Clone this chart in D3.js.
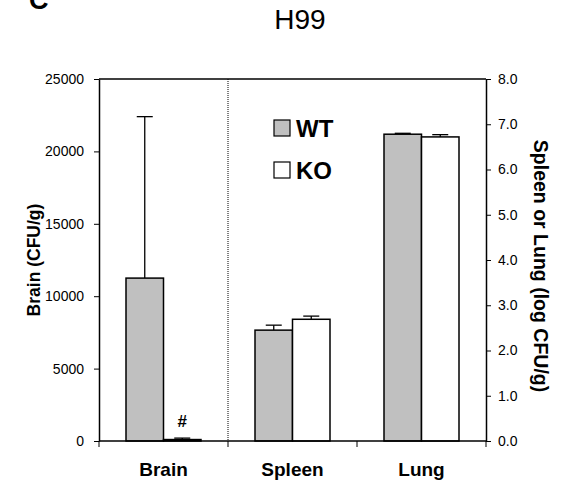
<!DOCTYPE html>
<html>
<head>
<meta charset="utf-8">
<script src="https://cdn.jsdelivr.net/npm/d3@7"></script>
<style>
  body { margin: 0; background: #fff; }
  text { font-family: "Liberation Sans", Arial, sans-serif; fill: #000; }
</style>
</head>
<body>
<div id="chart"></div>
<script>
// data
var categories = ["Brain", "Spleen", "Lung"];
var groups = ["WT", "KO"];
var wtValues = [11250, 2.45, 6.78];
var wtUpper = [22400, 2.56, 6.80];
var koValues = [100, 2.69, 6.72];
var koUpper = [200, 2.76, 6.77];
var leftTicks = [0, 5000, 10000, 15000, 20000, 25000];
var rightTicks = [0, 1, 2, 3, 4, 5, 6, 7, 8];

function draw_chart(id) {
    "use strict";
    var width = 564, height = 487;
    var left = 99, right = 486, top = 79, bottom = 441;

    var svg = d3.select(id).append("svg")
        .attr("width", width)
        .attr("height", height);

    var x = d3.scaleBand().domain(categories).range([left, right]).padding(0);
    var xg = d3.scaleBand().domain(groups).range([0, x.bandwidth()])
        .paddingInner(0).paddingOuter(0.72);
    var yLeft = d3.scaleLinear().domain([0, 25000]).range([bottom, top]);
    var yRight = d3.scaleLinear().domain([0, 8]).range([bottom, top]);

    var data = [];
    categories.forEach(function (c, i) {
        var sc = i === 0 ? yLeft : yRight;
        data.push({cat: c, grp: "WT", v: wtValues[i], up: wtUpper[i], y: sc, fill: "#c0c0c0"});
        data.push({cat: c, grp: "KO", v: koValues[i], up: koUpper[i], y: sc, fill: "#ffffff"});
    });

    // error bars (upward only)
    var err = svg.append("g").attr("stroke", "#000").attr("stroke-width", 1.3);
    data.forEach(function (d) {
        var cx = x(d.cat) + xg(d.grp) + xg.bandwidth() / 2;
        err.append("line").attr("x1", cx).attr("x2", cx)
            .attr("y1", d.y(d.v)).attr("y2", d.y(d.up));
        err.append("line").attr("x1", cx - 8).attr("x2", cx + 8)
            .attr("y1", d.y(d.up)).attr("y2", d.y(d.up));
    });

    // bars
    svg.append("g").selectAll("rect")
        .data(data)
        .enter()
        .append("rect")
        .attr("x", function (d) { return x(d.cat) + xg(d.grp); })
        .attr("width", xg.bandwidth())
        .attr("y", function (d) { return d.y(d.v); })
        .attr("height", function (d) { return bottom - d.y(d.v); })
        .attr("fill", function (d) { return d.fill; })
        .attr("stroke", "#000")
        .attr("stroke-width", 1.5);

    // "#" over brain KO
    svg.append("text")
        .attr("x", x("Brain") + xg("KO") + xg.bandwidth() / 2)
        .attr("y", 427)
        .attr("text-anchor", "middle")
        .attr("font-weight", "bold")
        .attr("font-size", "17px")
        .text("#");

    // dotted divider between brain and the rest
    svg.append("line")
        .attr("x1", x("Spleen")).attr("x2", x("Spleen"))
        .attr("y1", top).attr("y2", bottom)
        .attr("stroke", "#000").attr("stroke-width", 1)
        .attr("stroke-dasharray", "1,1");

    // frame top
    svg.append("line")
        .attr("x1", left).attr("x2", right)
        .attr("y1", top).attr("y2", top)
        .attr("stroke", "#000").attr("stroke-width", 1.5);

    // left axis
    var gl = svg.append("g")
        .attr("transform", "translate(" + left + ",0)")
        .call(d3.axisLeft(yLeft).tickValues(leftTicks).tickSize(5)
            .tickSizeOuter(0).tickPadding(10).tickFormat(d3.format("d")));
    gl.select(".domain").attr("stroke-width", 1.5);
    gl.selectAll("text").attr("font-size", "14px")
        .style("font-family", "'Liberation Sans', Arial, sans-serif");

    // right axis
    var gr = svg.append("g")
        .attr("transform", "translate(" + right + ",0)")
        .call(d3.axisRight(yRight).tickValues(rightTicks).tickSize(5)
            .tickSizeOuter(0).tickPadding(7).tickFormat(d3.format(".1f")));
    gr.select(".domain").attr("stroke-width", 1.5);
    gr.selectAll("text").attr("font-size", "14px")
        .style("font-family", "'Liberation Sans', Arial, sans-serif");

    // bottom axis line with ticks at category boundaries
    svg.append("line")
        .attr("x1", left).attr("x2", right)
        .attr("y1", bottom).attr("y2", bottom)
        .attr("stroke", "#000").attr("stroke-width", 1.5);
    var bounds = categories.map(function (c) { return x(c); }).concat([x.range()[1]]);
    svg.append("g").selectAll("line")
        .data(bounds)
        .enter()
        .append("line")
        .attr("x1", function (d) { return d; })
        .attr("x2", function (d) { return d; })
        .attr("y1", bottom).attr("y2", bottom + 6)
        .attr("stroke", "#000").attr("stroke-width", 1);

    svg.append("g").selectAll("text")
        .data(categories)
        .enter()
        .append("text")
        .attr("x", function (d) { return x(d) + x.bandwidth() / 2; })
        .attr("y", 476)
        .attr("text-anchor", "middle")
        .attr("font-weight", "bold")
        .attr("font-size", "19px")
        .text(function (d) { return d; });

    // axis titles
    svg.append("text")
        .attr("transform", "translate(40," + (bottom + top) / 2 + ") rotate(-90)")
        .attr("text-anchor", "middle")
        .attr("font-weight", "bold")
        .attr("font-size", "17.5px")
        .text("Brain (CFU/g)");
    svg.append("text")
        .attr("transform", "translate(534,266) rotate(90)")
        .attr("text-anchor", "middle")
        .attr("font-weight", "bold")
        .attr("font-size", "19.5px")
        .text("Spleen or Lung (log CFU/g)");

    // title and panel letter (letter is clipped at the top, as in the figure)
    svg.append("text")
        .attr("x", 300).attr("y", 29)
        .attr("text-anchor", "middle")
        .attr("font-size", "28px")
        .text("H99");
    svg.append("text")
        .attr("x", 29).attr("y", 9)
        .attr("font-weight", "bold")
        .attr("font-size", "27px")
        .text("C");

    // legend
    var legend = svg.append("g").selectAll("g")
        .data(groups)
        .enter()
        .append("g")
        .attr("transform", function (d, i) { return "translate(274," + (120 + i * 42) + ")"; });
    legend.append("rect")
        .attr("width", 16).attr("height", 16)
        .attr("fill", function (d) { return d === "WT" ? "#c0c0c0" : "#ffffff"; })
        .attr("stroke", "#000").attr("stroke-width", 1.2);
    legend.append("text")
        .attr("x", 22).attr("y", 17)
        .attr("font-weight", "bold")
        .attr("font-size", "24px")
        .text(function (d) { return d; });
}

draw_chart("#chart");
</script>
</body>
</html>
